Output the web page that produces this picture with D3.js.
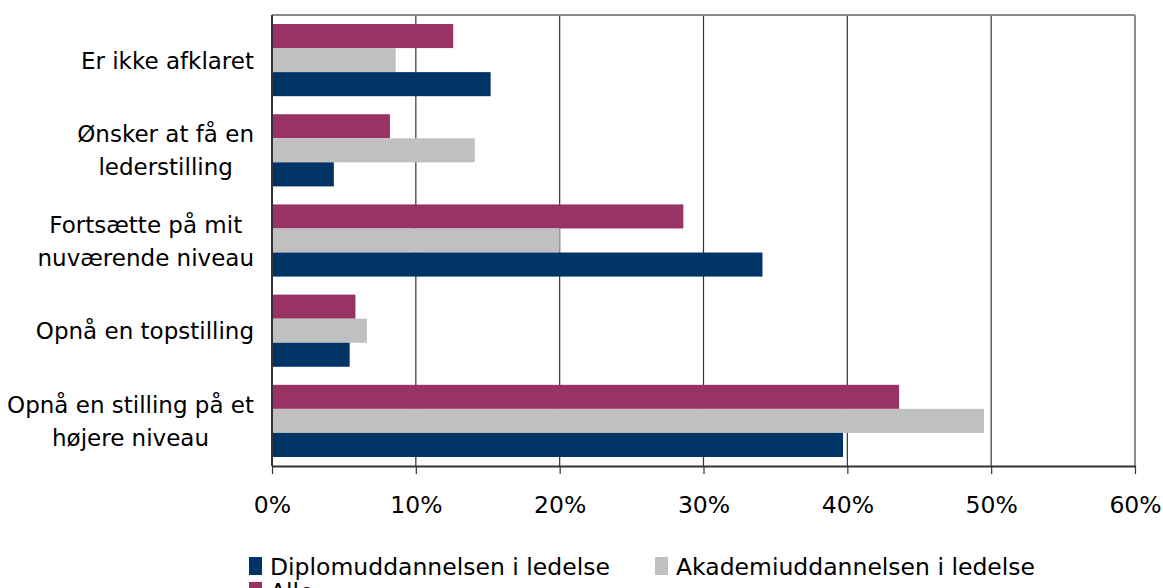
<!DOCTYPE html>
<html><head><meta charset="utf-8">
<script src="https://cdn.jsdelivr.net/npm/d3@7"></script>
<style>body{margin:0;background:#fff}svg{display:block}text{font-family:"DejaVu Sans",Verdana,sans-serif;fill:#000}</style>
</head><body><svg id="c" width="1163" height="588"></svg>
<script>
const categories = [
  ["Er ikke afklaret"],
  ["Ønsker at få en", "lederstilling"],
  ["Fortsætte på mit", "nuværende niveau"],
  ["Opnå en topstilling"],
  ["Opnå en stilling på et", "højere niveau"]
];
const seriesNames = ["Alle", "Akademiuddannelsen i ledelse", "Diplomuddannelsen i ledelse"];
const alle     = [12.6, 8.2, 28.6, 5.8, 43.6];
const akademi  = [8.6, 14.1, 20.0, 6.6, 49.5];
const diplom   = [15.2, 4.3, 34.1, 5.4, 39.7];
const ticks = [0, 10, 20, 30, 40, 50, 60];
const colors = {"Alle": "#993366", "Akademiuddannelsen i ledelse": "#c0c0c0", "Diplomuddannelsen i ledelse": "#003366"};

const values = {"Alle": alle, "Akademiuddannelsen i ledelse": akademi, "Diplomuddannelsen i ledelse": diplom};
const svg = d3.select("#c");
const L = 272, R = 1135, T = 15, B = 466;
const FS = "23.5px";
const x = d3.scaleLinear().domain([0, 60]).range([L, R]);
const y = d3.scaleBand().domain(d3.range(categories.length)).range([T, B]).paddingInner(0.2).paddingOuter(0.1);
const y1 = d3.scaleBand().domain(seriesNames).range([0, y.bandwidth()]);

// gridlines
svg.append("g").selectAll("line").data(ticks.filter(t => t > 0 && t < 60)).join("line")
  .attr("x1", d => x(d)).attr("x2", d => x(d)).attr("y1", T).attr("y2", B)
  .attr("stroke", "#333").attr("stroke-width", 1.2);

// bars
seriesNames.forEach(s => {
  svg.append("g").selectAll("rect").data(values[s]).join("rect")
    .attr("x", x(0)).attr("y", (d, i) => y(i) + y1(s))
    .attr("width", d => x(d) - x(0)).attr("height", y1.bandwidth())
    .attr("fill", colors[s]);
});

// frame
svg.append("line").attr("x1", L).attr("x2", R).attr("y1", T).attr("y2", T).attr("stroke", "#8c8c8c").attr("stroke-width", 2);
svg.append("line").attr("x1", R).attr("x2", R).attr("y1", T).attr("y2", B).attr("stroke", "#8c8c8c").attr("stroke-width", 2);
svg.append("line").attr("x1", L).attr("x2", L).attr("y1", T).attr("y2", B).attr("stroke", "#333").attr("stroke-width", 2);

// x axis
const xAxis = d3.axisBottom(x).tickValues(ticks).tickFormat(d => d + "%").tickSize(8).tickSizeOuter(0).tickPadding(22);
const gx = svg.append("g").attr("transform", `translate(0,${B})`).call(xAxis);
gx.select(".domain").attr("stroke", "#333").attr("stroke-width", 2);
gx.selectAll(".tick line").attr("stroke", "#333").attr("stroke-width", 1.2);
gx.selectAll(".tick text").style("font-size", FS).attr("fill", "#000");

// category labels: block right-aligned at 254, lines centred within block
categories.forEach((lines, i) => {
  const cy = y(i) + y.bandwidth() / 2;
  const lh = 33;
  const t = svg.append("text").attr("text-anchor", "middle").style("font-size", "23px");
  const spans = lines.map((ln, j) => t.append("tspan")
    .attr("y", cy + (j - (lines.length - 1) / 2) * lh + 8.5).text(ln));
  const maxW = d3.max(spans, sp => sp.node().getComputedTextLength());
  spans.forEach(sp => sp.attr("x", 254 - maxW / 2));
});

// legend
const legendItems = [
  {name: "Diplomuddannelsen i ledelse", x: 249, y: 566},
  {name: "Akademiuddannelsen i ledelse", x: 655, y: 566},
  {name: "Alle", x: 249, y: 591}
];
const lg = svg.append("g");
legendItems.forEach(it => {
  lg.append("rect").attr("x", it.x).attr("y", it.y - 9).attr("width", 13).attr("height", 18).attr("fill", colors[it.name]);
  lg.append("text").attr("x", it.x + 21).attr("y", it.y + 9).style("font-size", FS).text(it.name);
});
</script></body></html>
